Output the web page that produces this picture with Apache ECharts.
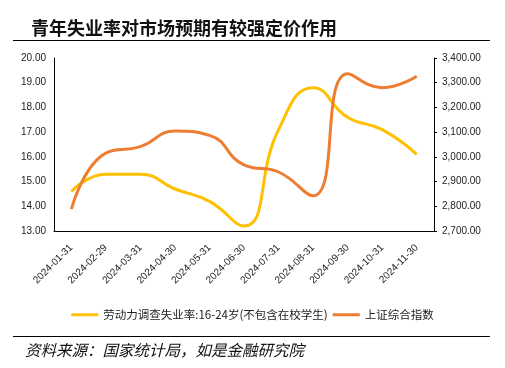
<!DOCTYPE html>
<html>
<head>
<meta charset="utf-8">
<script src="https://cdn.jsdelivr.net/npm/echarts@6/dist/echarts.min.js"></script>
<style>html,body{margin:0;padding:0;background:#fff}#c{width:505px;height:368px}</style>
</head>
<body>
<div id="c"></div>
<script>
const categories = ['2024-01-31','2024-02-29','2024-03-31','2024-04-30','2024-05-31','2024-06-30','2024-07-31','2024-08-31','2024-09-30','2024-10-31','2024-11-30'];
const youthUnemployment = [14.6, 15.3, 15.3, 14.7, 14.2, 13.2, 17.1, 18.8, 17.6, 17.1, 16.1];
const shIndex = [2788.55, 3015.17, 3041.17, 3104.82, 3086.81, 2967.40, 2938.75, 2842.21, 3336.50, 3279.82, 3326.46];
const leftTicks = {min: 13, max: 20, interval: 1};
const rightTicks = {min: 2700, max: 3400, interval: 100};
const seriesNames = ['劳动力调查失业率:16-24岁(不包含在校学生)', '上证综合指数'];
const titleText = '青年失业率对市场预期有较强定价作用';
const sourceText = '资料来源：国家统计局，如是金融研究院';

const chart = echarts.init(document.getElementById('c'), null, {renderer: 'canvas'});
const fmtComma = v => v.toLocaleString('en-US', {minimumFractionDigits: 2, maximumFractionDigits: 2});
const axisFont = {fontFamily: 'Liberation Sans, Arial, sans-serif', fontSize: 10, color: '#222'};

chart.setOption({
  animation: false,
  backgroundColor: '#fff',
  title: {
    text: titleText, left: 26, top: 14,
    textStyle: {fontFamily: 'Noto Sans CJK SC', fontWeight: 'bold', fontSize: 18, color: '#111'}
  },
  graphic: [
    {type: 'line', shape: {x1: 13, y1: 40.5, x2: 490, y2: 40.5}, style: {stroke: '#000', lineWidth: 1}},
    {type: 'line', shape: {x1: 13, y1: 336.5, x2: 490, y2: 336.5}, style: {stroke: '#000', lineWidth: 1}},
    {type: 'text', left: 25, top: 342, style: {text: sourceText, font: 'italic 15.5px "Noto Sans CJK SC"', fill: '#111'}}
  ],
  legend: {
    top: 304, left: 'center',
    itemWidth: 27, itemHeight: 3, itemGap: 5,
    icon: 'rect',
    textStyle: {fontFamily: 'Noto Sans CJK SC', fontSize: 11.5, color: '#222'},
    data: seriesNames
  },
  grid: {left: 54, right: 71, top: 58, bottom: 137, containLabel: false},
  xAxis: {
    type: 'category', data: categories, boundaryGap: true,
    axisLine: {lineStyle: {color: '#000', width: 1}},
    axisTick: {show: false},
    axisLabel: Object.assign({rotate: 45, interval: 0, margin: 15}, axisFont)
  },
  yAxis: [
    {
      type: 'value', position: 'left', min: leftTicks.min, max: leftTicks.max, interval: leftTicks.interval,
      splitLine: {show: false},
      axisLine: {show: true, lineStyle: {color: '#000', width: 1}},
      axisTick: {show: false},
      axisLabel: Object.assign({formatter: v => v.toFixed(2), margin: 8}, axisFont)
    },
    {
      type: 'value', position: 'right', min: rightTicks.min, max: rightTicks.max, interval: rightTicks.interval,
      splitLine: {show: false},
      axisLine: {show: true, lineStyle: {color: '#000', width: 1}},
      axisTick: {show: true, length: 3, lineStyle: {color: '#000'}},
      axisLabel: Object.assign({formatter: fmtComma, margin: 8}, axisFont)
    }
  ],
  series: [
    {
      name: seriesNames[0], type: 'line', yAxisIndex: 0, data: youthUnemployment,
      smooth: 0.5, showSymbol: false, symbol: 'none',
      lineStyle: {color: '#FFC000', width: 3}, itemStyle: {color: '#FFC000'}
    },
    {
      name: seriesNames[1], type: 'line', yAxisIndex: 1, data: shIndex,
      smooth: 0.5, showSymbol: false, symbol: 'none',
      lineStyle: {color: '#ED7D31', width: 3}, itemStyle: {color: '#ED7D31'}
    }
  ]
});
</script>
</body>
</html>
